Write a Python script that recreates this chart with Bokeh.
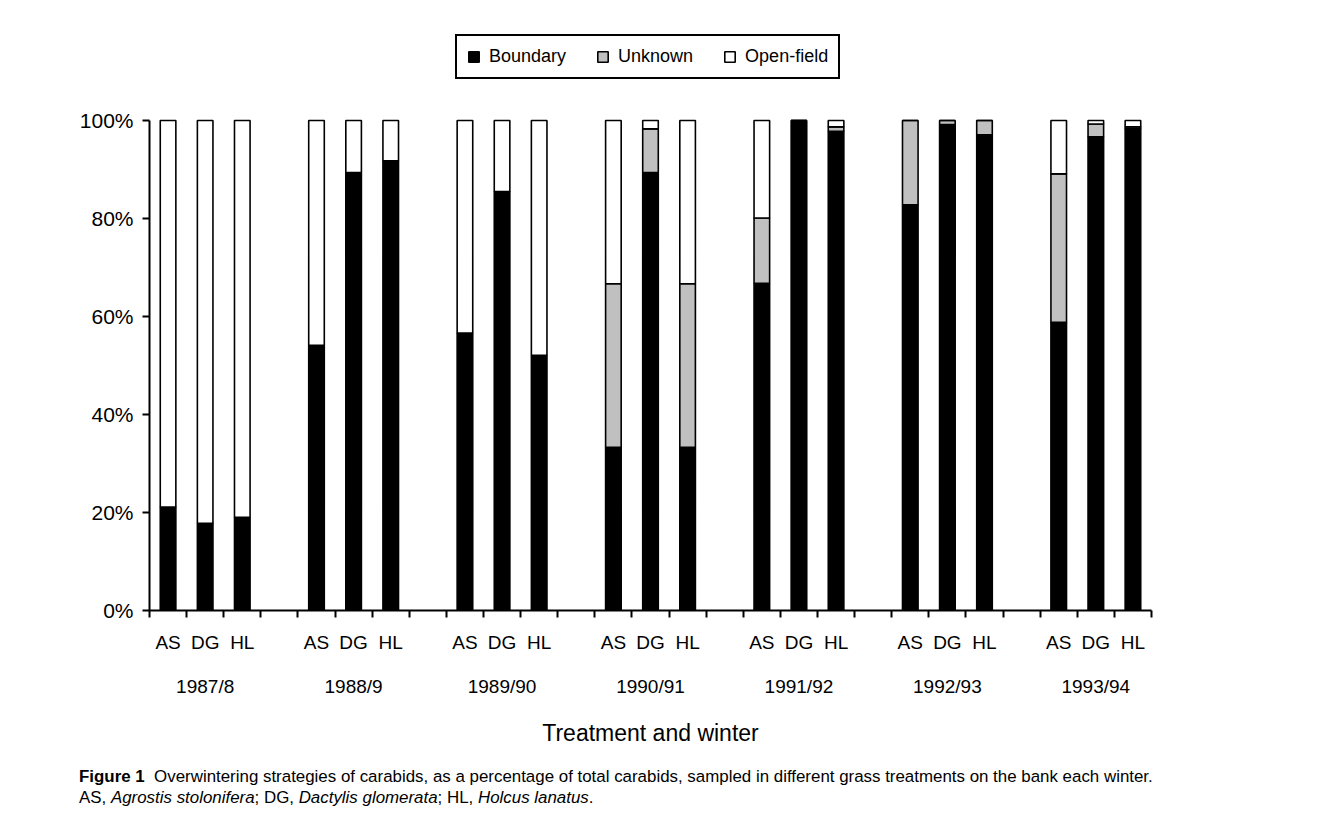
from bokeh.plotting import figure
from bokeh.models import (ColumnDataSource, Range1d, FixedTicker, LinearAxis,
                          PrintfTickFormatter, Legend, LegendItem, Div)
from bokeh.layouts import column
from bokeh.embed import file_html
from bokeh.resources import INLINE

# ---------------- data ----------------
treatments = ["AS", "DG", "HL"]
winters = ["1987/8", "1988/9", "1989/90", "1990/91", "1991/92", "1992/93", "1993/94"]

boundary = [21.1, 17.8, 19.0,
            54.1, 89.4, 91.8,
            56.6, 85.5, 52.1,
            33.3, 89.4, 33.3,
            66.8, 100.0, 97.8,
            82.8, 99.2, 97.1,
            58.8, 96.7, 98.3]
unknown = [0.0, 0.0, 0.0,
           0.0, 0.0, 0.0,
           0.0, 0.0, 0.0,
           33.4, 8.9, 33.4,
           13.3, 0.0, 0.9,
           17.2, 0.8, 2.9,
           30.3, 2.6, 0.4]
open_field = [78.9, 82.2, 81.0,
              45.9, 10.6, 8.2,
              43.4, 14.5, 47.9,
              33.3, 1.7, 33.3,
              19.9, 0.0, 1.3,
              0.0, 0.0, 0.0,
              10.9, 0.7, 1.3]

series_names = ["Boundary", "Unknown", "Open-field"]
y_ticks = [0, 20, 40, 60, 80, 100]

# slot layout: 3 bars per winter + 1 empty slot between winters
slots_per_group = len(treatments) + 1
n_slots = len(winters) * slots_per_group - 1
x_pos = []
labels = []
for g, w in enumerate(winters):
    for t, tr in enumerate(treatments):
        x_pos.append(g * slots_per_group + t + 0.5)
        labels.append(tr)
group_centers = [g * slots_per_group + len(treatments) / 2 for g in range(len(winters))]

source = ColumnDataSource(dict(x=x_pos, boundary=boundary, unknown=unknown, open=open_field))

FONT = "Liberation Sans"

# frame extends above 100% so the legend sits inside it; axis is bounded to 0..100
p = figure(width=1310, height=758, output_backend="svg", toolbar_location=None,
           x_range=Range1d(0, n_slots), y_range=Range1d(0, 120.41),
           min_border_left=149, min_border_right=159, min_border_top=20, min_border_bottom=148,
           x_axis_type=None, y_axis_type=None)
p.outline_line_color = None
p.xgrid.visible = False
p.ygrid.visible = False
p.background_fill_color = "white"
p.border_fill_color = "white"

renderers = p.vbar_stack(["boundary", "unknown", "open"], x="x", width=0.42, source=source,
                         fill_color=["black", "#c0c0c0", "white"], line_color="black",
                         line_width=1.6)

# y axis
yaxis = LinearAxis(ticker=FixedTicker(ticks=y_ticks),
                   formatter=PrintfTickFormatter(format="%d%%"),
                   bounds=(0, 100))
yaxis.axis_line_width = 2
yaxis.major_tick_line_width = 2
yaxis.major_tick_out = 7
yaxis.major_tick_in = 0
yaxis.minor_tick_line_color = None
yaxis.major_label_text_font = FONT
yaxis.major_label_text_font_size = "21px"
yaxis.major_label_text_color = "black"
yaxis.major_label_standoff = 9
p.add_layout(yaxis, "left")

# x axis: slot boundary ticks + treatment labels
xaxis = LinearAxis(ticker=FixedTicker(ticks=x_pos, minor_ticks=list(range(n_slots + 1))),
                   major_label_overrides={x: l for x, l in zip(x_pos, labels)})
xaxis.axis_line_width = 2
xaxis.major_tick_line_color = None
xaxis.major_tick_out = 0
xaxis.major_tick_in = 0
xaxis.minor_tick_line_width = 2
xaxis.minor_tick_out = 7
xaxis.minor_tick_in = 0
xaxis.major_label_text_font = FONT
xaxis.major_label_text_font_size = "19px"
xaxis.major_label_text_color = "black"
xaxis.major_label_standoff = 14
p.add_layout(xaxis, "below")

# winter labels axis
waxis = LinearAxis(ticker=FixedTicker(ticks=group_centers, minor_ticks=[]),
                   major_label_overrides={x: w for x, w in zip(group_centers, winters)})
waxis.axis_line_color = None
waxis.major_tick_line_color = None
waxis.minor_tick_line_color = None
waxis.major_label_text_font = FONT
waxis.major_label_text_font_size = "19px"
waxis.major_label_text_color = "black"
waxis.major_label_standoff = 14
waxis.axis_label = "Treatment and winter"
waxis.axis_label_text_font = FONT
waxis.axis_label_text_font_size = "23px"
waxis.axis_label_text_font_style = "normal"
waxis.axis_label_text_color = "black"
waxis.axis_label_standoff = 20
p.add_layout(waxis, "below")

legend = Legend(items=[LegendItem(label=n, renderers=[r]) for n, r in zip(series_names, renderers)],
                orientation="horizontal", location=(306, 531))
legend.border_line_color = "black"
legend.border_line_alpha = 1.0
legend.border_line_width = 2
legend.background_fill_alpha = 1
legend.label_text_font = FONT
legend.label_text_font_size = "18px"
legend.label_text_color = "black"
legend.glyph_width = 13
legend.glyph_height = 13
legend.label_standoff = 9
legend.spacing = 30
legend.padding = 10
legend.margin = 0
legend.label_height = 18
p.add_layout(legend, "center")

caption = Div(text=("<b>Figure\u00a01</b>&nbsp; Overwintering strategies of carabids, as a percentage of total "
                    "carabids, sampled in different grass treatments on the bank each winter.<br>"
                    "AS, <i>Agrostis stolonifera</i>; DG, <i>Dactylis glomerata</i>; HL, <i>Holcus lanatus</i>."),
              width=1200, margin=(8, 0, 0, 79),
              styles={"font-family": "'Liberation Sans', sans-serif",
                      "font-size": "16.9px", "line-height": "21px", "color": "black"})

layout = column(p, caption)
open("out.html", "w").write(file_html(layout, INLINE))
